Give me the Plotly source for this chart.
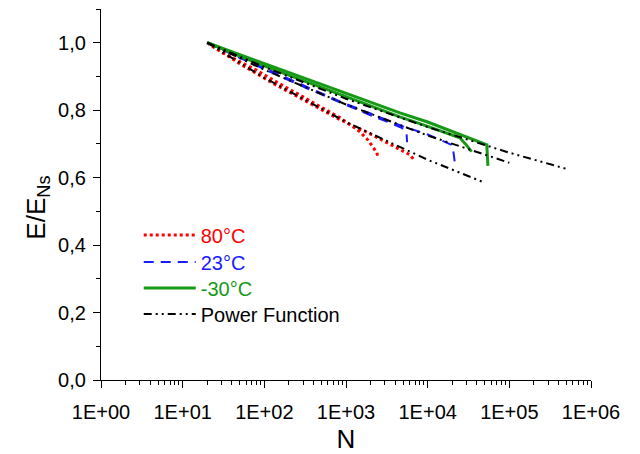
import plotly.graph_objects as go

# ---- data ----
red1_N = [20, 31, 50, 81, 127, 206, 332, 521, 841, 1116, 1480, 1850, 2135, 2390, 2455]
red1_y = [1.0, 0.970, 0.944, 0.918, 0.890, 0.861, 0.831, 0.806, 0.778, 0.757, 0.736, 0.712, 0.691, 0.674, 0.659]
red2_N = [20, 50, 127, 332, 841, 1800, 2830, 4570, 6040, 6950]
red2_y = [1.0, 0.938, 0.880, 0.825, 0.772, 0.735, 0.710, 0.685, 0.668, 0.650]

blue1_N = [20, 50, 127, 332, 841, 2000, 3500, 4800, 5500, 5600]
blue1_y = [1.0, 0.955, 0.910, 0.865, 0.823, 0.785, 0.762, 0.748, 0.735, 0.705]
blue2_N = [20, 50, 127, 332, 841, 2000, 5000, 10000, 14500, 19800, 20800, 21500]
blue2_y = [1.0, 0.957, 0.913, 0.868, 0.826, 0.790, 0.752, 0.728, 0.712, 0.697, 0.672, 0.644]

green1_N = [20, 50, 127, 332, 841, 2000, 4570, 10000, 20000, 35000, 53000, 54600]
green1_y = [1.0, 0.965, 0.930, 0.893, 0.857, 0.823, 0.792, 0.765, 0.737, 0.715, 0.697, 0.635]
green2_N = [20, 50, 127, 332, 841, 2000, 4570, 10000, 16000, 24800, 29000, 32000, 34500]
green2_y = [1.0, 0.960, 0.922, 0.884, 0.848, 0.814, 0.780, 0.752, 0.735, 0.718, 0.700, 0.688, 0.677]

pf_hot_N = [20, 100, 1000, 10000, 50000]
pf_hot_y = [1.0, 0.896, 0.765, 0.653, 0.585]
pf_room_N = [20, 100, 1000, 10000, 100000]
pf_room_y = [1.0, 0.920, 0.817, 0.725, 0.644]
pf_cold_N = [20, 100, 1000, 10000, 100000, 500000]
pf_cold_y = [1.0, 0.928, 0.834, 0.750, 0.674, 0.626]

x_tickvals = [1, 10, 100, 1000, 10000, 100000, 1000000]
x_ticktext = ["1E+00", "1E+01", "1E+02", "1E+03", "1E+04", "1E+05", "1E+06"]
y_tickvals = [0.0, 0.2, 0.4, 0.6, 0.8, 1.0]
y_ticktext = ["0,0", "0,2", "0,4", "0,6", "0,8", "1,0"]

RED = "#ff0000"
BLUE = "#1a1aff"
GREEN = "#169a16"
BLACK = "#000000"
PF_DASH = "8px,4px,2px,4px,2px,4px"

fig = go.Figure()

def add(xs, ys, color, dash, width, name, show, legend):
    fig.add_trace(go.Scatter(
        x=xs, y=ys, mode="lines",
        line=dict(color=color, dash=dash, width=width),
        name=name, showlegend=show, legend=legend,
    ))

add(red1_N, red1_y, RED, "dot", 3, "<span style='color:#ff0000'>80°C</span>", True, "legend")
add(red2_N, red2_y, RED, "dot", 3, "80°C", False, "legend")
add(blue1_N, blue1_y, BLUE, "10px,7px", 2, "<span style='color:#1a1aff'>23°C</span>", True, "legend2")
add(blue2_N, blue2_y, BLUE, "10px,7px", 2, "23°C", False, "legend2")
add(green1_N, green1_y, GREEN, "solid", 3, "<span style='color:#169a16'>-30°C</span>", True, "legend3")
add(green2_N, green2_y, GREEN, "solid", 3, "-30°C", False, "legend3")
add(pf_hot_N, pf_hot_y, BLACK, PF_DASH, 2, "Power Function", True, "legend4")
add(pf_room_N, pf_room_y, BLACK, PF_DASH, 2, "Power Function", False, "legend4")
add(pf_cold_N, pf_cold_y, BLACK, PF_DASH, 2, "Power Function", False, "legend4")

minor_x = [m * 10 ** k for k in range(6) for m in range(2, 10)]

def leg(yc):
    return dict(x=0.077, y=yc, xanchor="left", yanchor="middle",
                bgcolor="rgba(0,0,0,0)", font=dict(size=20), itemwidth=52)

fig.update_layout(
    width=632, height=446,
    margin=dict(l=93, r=49, t=1, b=74),
    paper_bgcolor="white", plot_bgcolor="white",
    font=dict(family="Arial, Liberation Sans, sans-serif", size=20, color="black"),
    showlegend=True,
    legend=leg(0.391),
    legend2=leg(0.318),
    legend3=leg(0.248),
    legend4=leg(0.178),
    xaxis=dict(
        type="log", range=[0, 6], automargin=False,
        tickmode="array", tickvals=x_tickvals, ticktext=x_ticktext,
        ticks="outside", ticklen=7, tickwidth=1, tickcolor="black",
        ticklabelstandoff=7,
        minor=dict(tickmode="array", tickvals=minor_x, ticks="outside", ticklen=4,
                   tickwidth=1, tickcolor="black", showgrid=False),
        showline=True, linecolor="black", linewidth=1.2,
        showgrid=False, zeroline=False,
        tickfont=dict(size=20),
        title=dict(text="N", font=dict(size=26), standoff=10),
    ),
    yaxis=dict(
        range=[0, 1.1], automargin=False,
        tickmode="array", tickvals=y_tickvals, ticktext=y_ticktext,
        ticks="outside", ticklen=7, tickwidth=1, tickcolor="black",
        ticklabelstandoff=3,
        minor=dict(dtick=0.1, ticks="outside", ticklen=4, tickwidth=1,
                   tickcolor="black", showgrid=False),
        showline=True, linecolor="black", linewidth=1.2,
        showgrid=False, zeroline=False,
        tickfont=dict(size=20),
    ),
    annotations=[dict(
        text="E/E<sub>Ns</sub>", textangle=-90, showarrow=False,
        xref="paper", yref="paper", x=-0.129, y=0.464,
        xanchor="center", yanchor="middle", font=dict(size=26),
    )],
)

fig.write_html("out.html")
